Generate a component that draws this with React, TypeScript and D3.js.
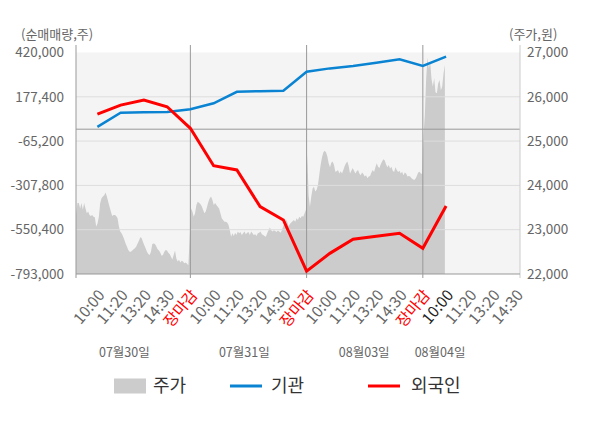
import * as d3 from "d3"
import { useEffect, useRef } from "react"

// 주가 (원), one array per trading day
const day1Prices = [
  22810, 23370, 23600, 23600, 23480, 23600, 23450, 23600, 23480, 23370, 23410, 23330, 23310, 23330,
  23290, 23280, 23070, 23140, 23290, 23600, 23710, 23750, 23780, 23840, 23750, 23630, 23520, 23410,
  23310, 23330, 23330, 23310, 23260, 23070, 22960, 22920, 22860, 22780, 22690, 22620, 22540, 22500,
  22500, 22530, 22560, 22580, 22620, 22690, 22750, 22830, 22810, 22730, 22650, 22580, 22500, 22450,
  22430, 22500, 22680, 22690, 22680, 22620, 22560, 22530, 22480, 22410, 22430, 22500, 22540, 22530,
  22480, 22450, 22390, 22330, 22430, 22530, 22350, 22280, 22320, 22260, 22300, 22280, 22240, 22260,
  22230, 22200,
]
const day2Prices = [
  23480, 23410, 23290, 23370, 23560, 23630, 23610, 23580, 23530, 23450, 23370, 23410, 23520, 23630,
  23710, 23750, 23670, 23560, 23600, 23560, 23520, 23480, 23370, 23260, 23220, 23180, 23180, 23160,
  23110, 22990, 22840, 22920, 22860, 22930, 22880, 22960, 22920, 22950, 22880, 22920, 22960, 22900,
  22930, 22950, 22880, 22960, 22920, 22880, 22900, 22860, 22920, 22930, 22960, 22900, 22880, 22860,
  22840, 22920, 22990, 23050, 22990, 22960, 22990, 22970, 22950, 22980, 22960, 22930, 22990, 23080,
  23160, 23230, 23180, 23080, 23130, 23160, 23190, 23220, 23180, 23260, 23220, 23290, 23260, 23310,
  23290, 23370, 23450,
]
const day3Prices = [
  24690, 23780, 23520, 23750, 23930, 23970, 23860, 23900, 24010, 24240, 24460, 24630, 24740, 24780,
  24750, 24660, 24500, 24410, 24510, 24540, 24460, 24310, 24320, 24350, 24270, 24320, 24270, 24350,
  24440, 24500, 24540, 24440, 24270, 24330, 24390, 24330, 24270, 24320, 24350, 24270, 24230, 24290,
  24260, 24200, 24230, 24160, 24200, 24210, 24290, 24350, 24300, 24410, 24500, 24420, 24390, 24480,
  24540, 24590, 24560, 24470, 24410, 24460, 24380, 24420, 24330, 24300, 24410, 24350, 24300, 24330,
  24270, 24310, 24230, 24290, 24270, 24200, 24210, 24200, 24160, 24140, 24120, 24150, 24210, 24290,
  24310, 24270, 24260,
]
const day4Prices = [
  25140, 25590, 26420, 26880, 26640, 26790, 26400, 26230, 26420, 26100, 26080, 26300, 26380, 26150,
  26230, 26530, 26720,
]

// 순매매량 (주), one value per time tick
const instNet = [
  13000, 90000, 93000, 94000, 109000, 142000, 205000, 208000, 211000, 315000, 333000, 346000,
  364000, 383000, 346000, 397000,
]
const foreignNet = [
  83000, 132000, 160000, 123000, 5000, -200000, -223000, -424000, -497000, -777000, -680000,
  -603000, -586000, -570000, -652000, -421000,
]

const dayLabels = ["07월30일", "07월31일", "08월03일", "08월04일"]
const timeLabels = ["10:00", "11:20", "13:20", "14:30", "장마감"]
const leftTicks = [420000, 177400, -65200, -307800, -550400, -793000]
const rightTicks = [27000, 26000, 25000, 24000, 23000, 22000]

const FONT = "'Noto Sans CJK KR', 'Noto Sans', sans-serif"
const fmt = (v: number) => d3.format(",")(v).replace("\u2212", "-")

const App = () => {
  const svgRef = useRef<SVGSVGElement | null>(null)

  useEffect(() => {
    if (!svgRef.current) return
    const svg = d3.select(svgRef.current)
    svg.selectAll("*").remove()

    const left = 76
    const right = 520
    const top = 52.5
    const bottom = 274
    const axisTop = 45
    const ticksPerDay = 5
    const step = ticksPerDay / 87

    const x = d3.scaleLinear().domain([0.08, 19.18]).range([left, right])
    const yL = d3.scaleLinear().domain([-793000, 420000]).range([bottom, top])
    const yR = d3.scaleLinear().domain([22000, 27000]).range([bottom, top])

    svg.append("defs")
      .append("clipPath")
      .attr("id", "plot-clip")
      .append("rect")
      .attr("x", left)
      .attr("y", top)
      .attr("width", right - left)
      .attr("height", bottom - top)

    // plot background
    svg.append("rect")
      .attr("x", left)
      .attr("y", top)
      .attr("width", right - left)
      .attr("height", bottom - top)
      .attr("fill", "#f4f4f4")

    // price area
    const prices: { u: number; v: number }[] = []
    ;[day1Prices, day2Prices, day3Prices, day4Prices].forEach((arr, d) => {
      arr.forEach((v, i) => prices.push({ u: d * ticksPerDay + (i + 0.5) * step, v }))
    })
    const area = d3.area<{ u: number; v: number }>()
      .x(d => x(d.u))
      .y0(bottom)
      .y1(d => yR(d.v))
    svg.append("path")
      .datum(prices)
      .attr("clip-path", "url(#plot-clip)")
      .attr("fill", "#cccccc")
      .attr("d", area)

    // grid lines
    svg.append("g")
      .selectAll("line")
      .data(leftTicks.slice(1, -1))
      .enter()
      .append("line")
      .attr("x1", left)
      .attr("x2", right)
      .attr("y1", d => yL(d))
      .attr("y2", d => yL(d))
      .attr("stroke", "#dddddd")
      .attr("stroke-width", 1)

    // zero line
    svg.append("line")
      .attr("x1", left)
      .attr("x2", right)
      .attr("y1", yL(0))
      .attr("y2", yL(0))
      .attr("stroke", "#999999")

    // day separators + left axis
    const seps = [0.08, 5, 10, 15]
    svg.append("g")
      .selectAll("line")
      .data(seps)
      .enter()
      .append("line")
      .attr("x1", d => x(d))
      .attr("x2", d => x(d))
      .attr("y1", axisTop)
      .attr("y2", bottom + 4)
      .attr("stroke", "#999999")

    // right axis
    svg.append("line")
      .attr("x1", right)
      .attr("x2", right)
      .attr("y1", axisTop)
      .attr("y2", bottom + 4)
      .attr("stroke", "#cccccc")

    // bottom axis
    svg.append("line")
      .attr("x1", left)
      .attr("x2", right)
      .attr("y1", bottom)
      .attr("y2", bottom)
      .attr("stroke", "#999999")

    // lines
    const line = d3.line<number>()
      .x((_d, i) => x(i + 1))
      .y(d => yL(d))
    svg.append("path")
      .datum(instNet)
      .attr("fill", "none")
      .attr("stroke", "#0a84d2")
      .attr("stroke-width", 2.5)
      .attr("d", line)
    svg.append("path")
      .datum(foreignNet)
      .attr("fill", "none")
      .attr("stroke", "#ff0000")
      .attr("stroke-width", 3)
      .attr("d", line)

    // left axis labels
    svg.append("g")
      .selectAll("text")
      .data(leftTicks)
      .enter()
      .append("text")
      .attr("x", 64)
      .attr("y", d => yL(d))
      .attr("dy", "0.35em")
      .attr("text-anchor", "end")
      .style("font-family", FONT)
      .style("font-size", "13.5px")
      .style("fill", "#666")
      .text(d => fmt(d))

    // right axis labels
    svg.append("g")
      .selectAll("text")
      .data(rightTicks)
      .enter()
      .append("text")
      .attr("x", 527)
      .attr("y", d => yR(d))
      .attr("dy", "0.35em")
      .style("font-family", FONT)
      .style("font-size", "13.5px")
      .style("fill", "#666")
      .text(d => fmt(d))

    // unit titles
    svg.append("text")
      .attr("x", 21)
      .attr("y", 34)
      .attr("dy", "0.35em")
      .style("font-family", FONT)
      .style("font-size", "13px")
      .style("fill", "#666")
      .text("(순매매량,주)")
    svg.append("text")
      .attr("x", 509)
      .attr("y", 34)
      .attr("dy", "0.35em")
      .style("font-family", FONT)
      .style("font-size", "13px")
      .style("fill", "#666")
      .text("(주가,원)")

    // x tick labels
    const xTicks: { u: number; label: string; color: string }[] = []
    dayLabels.forEach((_day, d) => {
      const count = d === dayLabels.length - 1 ? 4 : 5
      for (let k = 0; k < count; k++) {
        const label = timeLabels[k]
        let color = "#666"
        if (label === "장마감") color = "#ff0000"
        else if (d === dayLabels.length - 1 && k === 0) color = "#222"
        xTicks.push({ u: d * ticksPerDay + k + 1, label, color })
      }
    })
    svg.append("g")
      .selectAll("text")
      .data(xTicks)
      .enter()
      .append("text")
      .attr("transform", d => `translate(${x(d.u) + 4},${bottom + 18}) rotate(-50)`)
      .attr("dy", "0.35em")
      .attr("text-anchor", "end")
      .style("font-family", FONT)
      .style("font-size", "15.5px")
      .style("fill", d => d.color)
      .text(d => d.label)

    // date labels
    const dateAt = [2.16, 7.32, 12.48, 15.74]
    svg.append("g")
      .selectAll("text")
      .data(dayLabels)
      .enter()
      .append("text")
      .attr("x", (_d, i) => x(dateAt[i]))
      .attr("y", 353)
      .attr("dy", "0.35em")
      .attr("text-anchor", "middle")
      .style("font-family", FONT)
      .style("font-size", "12.5px")
      .style("fill", "#666")
      .text(d => d)

    // legend
    const legend = svg.append("g").style("font-family", FONT)
    legend.append("rect")
      .attr("x", 114)
      .attr("y", 378.5)
      .attr("width", 32)
      .attr("height", 15)
      .attr("fill", "#cccccc")
    legend.append("line")
      .attr("x1", 230)
      .attr("x2", 262)
      .attr("y1", 386)
      .attr("y2", 386)
      .attr("stroke", "#0a84d2")
      .attr("stroke-width", 3)
    legend.append("line")
      .attr("x1", 368)
      .attr("x2", 400)
      .attr("y1", 386)
      .attr("y2", 386)
      .attr("stroke", "#ff0000")
      .attr("stroke-width", 3)
    const legendText = [
      { x: 153, t: "주가" },
      { x: 271, t: "기관" },
      { x: 411, t: "외국인" },
    ]
    legend.selectAll("text")
      .data(legendText)
      .enter()
      .append("text")
      .attr("x", d => d.x)
      .attr("y", 386)
      .attr("dy", "0.35em")
      .style("font-size", "18px")
      .style("fill", "#333")
      .text(d => d.t)
  }, [])

  return (
    <svg
      ref={svgRef}
      width={600}
      height={428}
      style={{ position: "absolute", left: 0, top: 0, background: "#fff" }}
    />
  )
}

export default App
